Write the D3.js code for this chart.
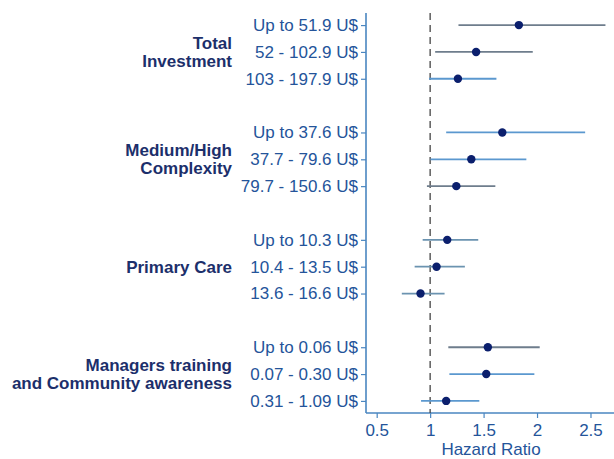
<!DOCTYPE html>
<html>
<head>
<meta charset="utf-8">
<script src="https://cdn.jsdelivr.net/npm/d3@7"></script>
<style>
  body { margin: 0; background: #fff; }
  text { font-family: "Liberation Sans", Arial, sans-serif; }
</style>
</head>
<body>
<svg id="forest" width="614" height="459"></svg>
<script>
// rows, top to bottom (null = empty spacer row between groups)
var rowLabels = [
  "Up to 51.9 U$", "52 - 102.9 U$", "103 - 197.9 U$", null,
  "Up to 37.6 U$", "37.7 - 79.6 U$", "79.7 - 150.6 U$", null,
  "Up to 10.3 U$", "10.4 - 13.5 U$", "13.6 - 16.6 U$", null,
  "Up to 0.06 U$", "0.07 - 0.30 U$", "0.31 - 1.09 U$"
];
var hazard = [1.83, 1.43, 1.26, null, 1.675, 1.385, 1.245, null, 1.16, 1.06, 0.91, null, 1.54, 1.525, 1.15];
var ciLow  = [1.265, 1.047, 0.99, null, 1.15, 1.003, 0.97, null, 0.93, 0.855, 0.735, null, 1.17, 1.18, 0.915];
var ciHigh = [2.64, 1.96, 1.62, null, 2.45, 1.90, 1.61, null, 1.45, 1.325, 1.135, null, 2.025, 1.975, 1.46];

var groupNames = [
  ["Total", "Investment"],
  ["Medium/High", "Complexity"],
  ["Primary Care"],
  ["Managers training", "and Community awareness"]
];
var groupMiddleRow = [1, 5, 9, 13];

var xTicks = [0.5, 1, 1.5, 2, 2.5];

// line tone per row (style only)
var lineTone = ["#6e7d8c", "#6e7d8c", "#5b98cf", null, "#5b98cf", "#5b98cf", "#6e7d8c", null,
                "#6b93b0", "#6b93b0", "#6b93b0", null, "#6e7d8c", "#5b98cf", "#5b98cf"];

var svg = d3.select("#forest");
var axisBlue = "#4a86c0";
var labelBlue = "#24549a";

var x = d3.scaleLinear().domain([0.4, 2.72]).range([366, 614]);
var y = d3.scaleLinear().domain([-0.45, 14.45]).range([13, 413]);

var rows = rowLabels.map(function(l, i) {
  return {label: l, hr: hazard[i], lo: ciLow[i], hi: ciHigh[i], tone: lineTone[i], i: i};
}).filter(function(d) { return d.label !== null; });

// y axis
var yAxis = d3.axisLeft(y)
  .tickValues(rows.map(function(d) { return d.i; }))
  .tickFormat(function(i) { return rowLabels[i]; })
  .tickSize(5)
  .tickPadding(3);

var gy = svg.append("g").attr("transform", "translate(366,0)").call(yAxis);
gy.select(".domain").attr("stroke", axisBlue).attr("stroke-width", 1.6).attr("d", "M0," + y(-0.45) + "V" + y(14.45));
gy.selectAll(".tick line").attr("stroke", axisBlue).attr("stroke-width", 1.2);
gy.selectAll(".tick text")
  .attr("fill", labelBlue)
  .style("font-size", "17px")
  .style("font-family", "'Liberation Sans', Arial, sans-serif");

// x axis
var xAxis = d3.axisBottom(x).tickValues(xTicks).tickFormat(d3.format("")).tickSize(5).tickPadding(6);
var gx = svg.append("g").attr("transform", "translate(0,413)").call(xAxis);
gx.select(".domain").attr("stroke", axisBlue).attr("stroke-width", 1.6).attr("d", "M366,0H614");
gx.selectAll(".tick line").attr("stroke", axisBlue).attr("stroke-width", 1.2);
gx.selectAll(".tick text")
  .attr("fill", labelBlue)
  .style("font-size", "17px")
  .style("font-family", "'Liberation Sans', Arial, sans-serif");

svg.append("text")
  .attr("x", 491).attr("y", 455)
  .attr("text-anchor", "middle")
  .attr("fill", labelBlue)
  .style("font-size", "17px")
  .text("Hazard Ratio");

// reference line at HR = 1
svg.append("line")
  .attr("x1", x(1)).attr("x2", x(1))
  .attr("y1", y(-0.45)).attr("y2", y(14.45))
  .attr("stroke", "#444")
  .attr("stroke-width", 1.3)
  .attr("stroke-dasharray", "7,5");

// confidence intervals
svg.append("g").selectAll("line")
  .data(rows)
  .join("line")
  .attr("x1", function(d) { return x(d.lo); })
  .attr("x2", function(d) { return x(d.hi); })
  .attr("y1", function(d) { return y(d.i); })
  .attr("y2", function(d) { return y(d.i); })
  .attr("stroke", function(d) { return d.tone; })
  .attr("stroke-width", 1.8);

// point estimates
svg.append("g").selectAll("circle")
  .data(rows)
  .join("circle")
  .attr("cx", function(d) { return x(d.hr); })
  .attr("cy", function(d) { return y(d.i); })
  .attr("r", 4.2)
  .attr("fill", "#0b1f6d");

// group labels
groupNames.forEach(function(lines, g) {
  var mid = y(groupMiddleRow[g]);
  var lh = 18;
  var t = svg.append("text")
    .attr("text-anchor", "end")
    .attr("fill", "#1c2f6b")
    .style("font-weight", "bold")
    .style("font-size", "17px");
  lines.forEach(function(s, k) {
    t.append("tspan")
      .attr("x", 232)
      .attr("y", mid + (k - (lines.length - 1) / 2) * lh)
      .attr("dy", "0.35em")
      .text(s);
  });
});
</script>
</body>
</html>
